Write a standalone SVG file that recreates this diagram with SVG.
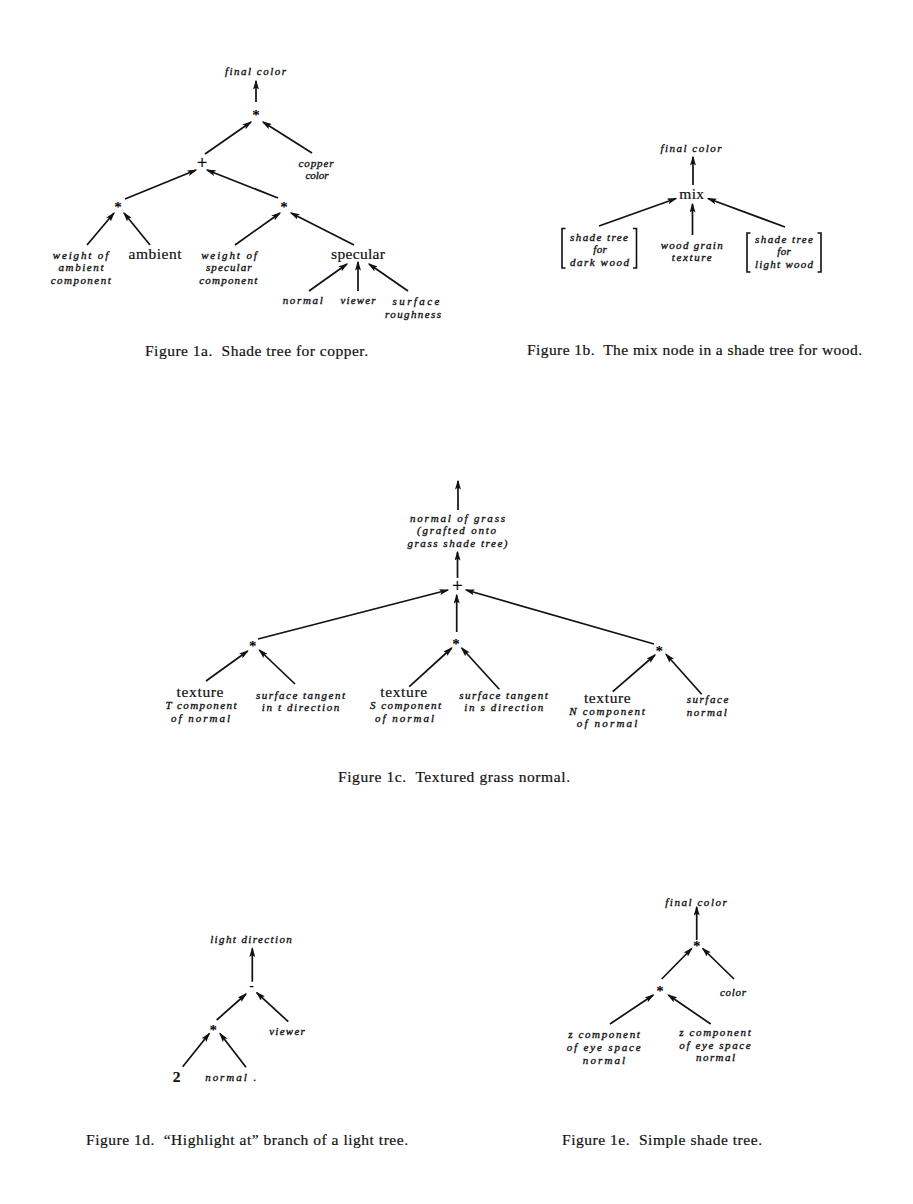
<svg xmlns="http://www.w3.org/2000/svg" width="913" height="1204" viewBox="0 0 913 1204">
  <style>
    .ln { stroke:#111; stroke-width:1.7; fill:none; marker-end:url(#ah); }
    .br { stroke:#111; stroke-width:1.6; fill:none; }
    .it { font-family:"Liberation Serif", serif; font-style:italic; font-size:11px; fill:#111; stroke:#111; stroke-width:0.35; text-anchor:middle; }
    .rm { font-family:"Liberation Serif", serif; font-size:15.5px; fill:#111; stroke:#111; stroke-width:0.2; text-anchor:middle; }
    .op { font-family:"Liberation Serif", serif; font-weight:bold; font-size:15px; fill:#000; text-anchor:middle; }
    .mn { font-family:"Liberation Serif", serif; font-weight:bold; font-size:14px; fill:#000; text-anchor:middle; }
    .plus { font-family:"Liberation Serif", serif; font-size:18px; fill:#000; stroke:#000; stroke-width:0.3; text-anchor:middle; }
    .bd { font-weight:bold; }
    .cap { font-family:"Liberation Serif", serif; font-size:15.5px; fill:#111; stroke:#111; stroke-width:0.2; }
  </style>
  <defs>
    <marker id="ah" viewBox="0 0 10 6" refX="8.6" refY="3" markerWidth="10" markerHeight="6" markerUnits="userSpaceOnUse" orient="auto">
      <path d="M0,0 L10,3 L0,6 L2,3 z" fill="#111"/>
    </marker>
  </defs>
  <rect width="913" height="1204" fill="#fff"/>

  <!-- Figure 1a: shade tree for copper -->
  <g id="fig1a">
    <g id="connectors-1a">
      <line class="ln" x1="256" y1="102" x2="256" y2="81"/>
      <line class="ln" x1="205" y1="154" x2="251" y2="122"/>
      <line class="ln" x1="312" y1="153" x2="263" y2="122"/>
      <line class="ln" x1="125" y1="199" x2="196" y2="170"/>
      <line class="ln" x1="278" y1="198" x2="207" y2="170"/>
      <line class="ln" x1="87" y1="245" x2="114" y2="213"/>
      <line class="ln" x1="150" y1="245" x2="124" y2="213"/>
      <line class="ln" x1="235" y1="245" x2="280" y2="213"/>
      <line class="ln" x1="354" y1="245" x2="291" y2="213"/>
      <line class="ln" x1="309" y1="291" x2="347" y2="264"/>
      <line class="ln" x1="358" y1="291" x2="358" y2="262"/>
      <line class="ln" x1="408" y1="291" x2="369" y2="264"/>
    </g>
    <g id="a-final"><text class="it" x="255.5" y="75" textLength="61">final color</text></g>
    <g id="a-mul-top"><text class="op" x="256" y="120.3">*</text></g>
    <g id="a-plus"><text class="plus" x="202" y="169">+</text></g>
    <g id="a-copper">
      <text class="it" x="316" y="166.5" textLength="35">copper</text>
      <text class="it" x="317" y="179" textLength="23">color</text>
    </g>
    <g id="a-mul-left"><text class="op" x="118" y="212.3">*</text></g>
    <g id="a-mul-right"><text class="op" x="284" y="212.3">*</text></g>
    <g id="a-weight-ambient">
      <text class="it" x="80.5" y="258.5" textLength="55.6">weight of</text>
      <text class="it" x="81" y="271.3" textLength="45">ambient</text>
      <text class="it" x="80.7" y="284" textLength="60">component</text>
    </g>
    <g id="a-ambient"><text class="rm" x="155" y="259" textLength="53">ambient</text></g>
    <g id="a-weight-specular">
      <text class="it" x="229" y="258.5" textLength="55.7">weight of</text>
      <text class="it" x="228.8" y="271.3" textLength="45.7">specular</text>
      <text class="it" x="228.2" y="284" textLength="58">component</text>
    </g>
    <g id="a-specular"><text class="rm" x="358" y="259" textLength="54">specular</text></g>
    <g id="a-normal"><text class="it" x="302.7" y="304.3" textLength="40">normal</text></g>
    <g id="a-viewer"><text class="it" x="358" y="304.3" textLength="35">viewer</text></g>
    <g id="a-roughness">
      <text class="it" x="416" y="305" textLength="47">surface</text>
      <text class="it" x="413" y="317.5" textLength="56">roughness</text>
    </g>
    <text class="cap" x="145" y="356" textLength="223">Figure 1a.&#160; Shade tree for copper.</text>
  </g>

  <!-- Figure 1b: mix node -->
  <g id="fig1b">
    <g id="connectors-1b">
      <line class="ln" x1="693" y1="185" x2="693" y2="157"/>
      <line class="ln" x1="599" y1="226" x2="676" y2="198.5"/>
      <line class="ln" x1="692.5" y1="235" x2="692.5" y2="204"/>
      <line class="ln" x1="785" y1="227" x2="708" y2="198.5"/>
    </g>
    <g id="b-final"><text class="it" x="691" y="151.5" textLength="61">final color</text></g>
    <g id="b-mix"><text class="rm" x="691.7" y="198.5" textLength="24.7">mix</text></g>
    <g id="b-dark">
      <path class="br" d="M565.5,228.5 H562 V268 H565.5"/>
      <path class="br" d="M633,228.5 H636.5 V268 H633"/>
      <text class="it" x="599" y="240.5" textLength="58">shade tree</text>
      <text class="it" x="600" y="253" textLength="13.5">for</text>
      <text class="it" x="599.5" y="265.5" textLength="59">dark wood</text>
    </g>
    <g id="b-grain">
      <text class="it" x="691.7" y="248.5" textLength="62">wood grain</text>
      <text class="it" x="691.7" y="261" textLength="40">texture</text>
    </g>
    <g id="b-light">
      <path class="br" d="M750.5,233 H747 V272 H750.5"/>
      <path class="br" d="M817.5,233 H821 V272 H817.5"/>
      <text class="it" x="784" y="242.5" textLength="58">shade tree</text>
      <text class="it" x="784" y="255" textLength="13.5">for</text>
      <text class="it" x="784" y="267.5" textLength="58">light wood</text>
    </g>
    <text class="cap" x="527" y="355" textLength="335">Figure 1b.&#160; The mix node in a shade tree for wood.</text>
  </g>

  <!-- Figure 1c: textured grass normal -->
  <g id="fig1c">
    <g id="connectors-1c">
      <line class="ln" x1="458" y1="510" x2="458" y2="481"/>
      <line class="ln" x1="457.5" y1="578" x2="457.5" y2="552"/>
      <line class="ln" x1="456.7" y1="632" x2="456.7" y2="595"/>
      <line class="ln" x1="258" y1="639" x2="448" y2="590"/>
      <line class="ln" x1="654" y1="644" x2="466" y2="590"/>
      <line class="ln" x1="206" y1="681" x2="247.7" y2="651"/>
      <line class="ln" x1="295" y1="684" x2="259.3" y2="650"/>
      <line class="ln" x1="409.3" y1="686.7" x2="451.7" y2="648"/>
      <line class="ln" x1="499.3" y1="689.3" x2="461.7" y2="648"/>
      <line class="ln" x1="612.7" y1="691.7" x2="655" y2="655"/>
      <line class="ln" x1="701.7" y1="694.3" x2="666" y2="654.3"/>
    </g>
    <g id="c-grass">
      <text class="it" x="457.5" y="521.5" textLength="95">normal of grass</text>
      <text class="it" x="456.5" y="534" textLength="79">(grafted onto</text>
      <text class="it" x="457.5" y="546.5" textLength="100">grass shade tree)</text>
    </g>
    <g id="c-plus"><text class="plus" x="457.3" y="591.5">+</text></g>
    <g id="c-mul-left"><text class="op" x="252.7" y="650.6">*</text></g>
    <g id="c-mul-mid"><text class="op" x="456" y="649">*</text></g>
    <g id="c-mul-right"><text class="op" x="659.3" y="655.6">*</text></g>
    <g id="c-tex-t">
      <text class="rm" x="200" y="696.5" textLength="47">texture</text>
      <text class="it" x="201" y="709.3" textLength="71">T component</text>
      <text class="it" x="200.5" y="721.6" textLength="59">of normal</text>
    </g>
    <g id="c-tan-t">
      <text class="it" x="300.5" y="698.5" textLength="89">surface tangent</text>
      <text class="it" x="300.5" y="711" textLength="77.6">in t direction</text>
    </g>
    <g id="c-tex-s">
      <text class="rm" x="403.7" y="696.5" textLength="47">texture</text>
      <text class="it" x="405.5" y="709.3" textLength="71">S component</text>
      <text class="it" x="404.5" y="721.6" textLength="59">of normal</text>
    </g>
    <g id="c-tan-s">
      <text class="it" x="503.5" y="698.5" textLength="88.4">surface tangent</text>
      <text class="it" x="503.8" y="711" textLength="79">in s direction</text>
    </g>
    <g id="c-tex-n">
      <text class="rm" x="607.3" y="702.5" textLength="46.7">texture</text>
      <text class="it" x="607" y="715" textLength="75.7">N component</text>
      <text class="it" x="607" y="727.3" textLength="60.6">of normal</text>
    </g>
    <g id="c-surface-normal">
      <text class="it" x="707.5" y="703.3" textLength="41.6">surface</text>
      <text class="it" x="706.7" y="716" textLength="40">normal</text>
    </g>
    <text class="cap" x="338" y="782" textLength="232">Figure 1c.&#160; Textured grass normal.</text>
  </g>

  <!-- Figure 1d: highlight-at branch -->
  <g id="fig1d">
    <g id="connectors-1d">
      <line class="ln" x1="252.3" y1="981.7" x2="252.3" y2="948.5"/>
      <line class="ln" x1="216.7" y1="1020" x2="246" y2="994"/>
      <line class="ln" x1="288.3" y1="1021.7" x2="256.7" y2="992.7"/>
      <line class="ln" x1="182.7" y1="1066.7" x2="209.3" y2="1033.5"/>
      <line class="ln" x1="246" y1="1067.3" x2="220" y2="1033.5"/>
    </g>
    <g id="d-light"><text class="it" x="251" y="943.3" textLength="81.7">light direction</text></g>
    <g id="d-minus"><text class="mn" x="251.7" y="989.7">-</text></g>
    <g id="d-viewer"><text class="it" x="287" y="1035" textLength="35.7">viewer</text></g>
    <g id="d-mul"><text class="op" x="213.3" y="1034.6">*</text></g>
    <g id="d-two"><text class="rm bd" x="176.7" y="1082" font-size="14">2</text></g>
    <g id="d-normal"><text class="it" x="230.7" y="1081" text-anchor="start" textLength="51">normal .</text></g>
    <text class="cap" x="86" y="1145" textLength="322">Figure 1d.&#160; “Highlight at” branch of a light tree.</text>
  </g>

  <!-- Figure 1e: simple shade tree -->
  <g id="fig1e">
    <g id="connectors-1e">
      <line class="ln" x1="696.7" y1="940" x2="696.7" y2="907"/>
      <line class="ln" x1="661.7" y1="979" x2="691.7" y2="948.5"/>
      <line class="ln" x1="734" y1="979" x2="702.7" y2="948.5"/>
      <line class="ln" x1="610" y1="1024" x2="653.3" y2="995"/>
      <line class="ln" x1="710.7" y1="1024" x2="668.3" y2="995"/>
    </g>
    <g id="e-final"><text class="it" x="696" y="906" textLength="61.7">final color</text></g>
    <g id="e-mul-top"><text class="op" x="696.7" y="951.3">*</text></g>
    <g id="e-color"><text class="it" x="733" y="996" textLength="26">color</text></g>
    <g id="e-mul-low"><text class="op" x="660" y="995.6">*</text></g>
    <g id="e-z-left">
      <text class="it" x="604" y="1038" textLength="71.7">z component</text>
      <text class="it" x="603.7" y="1050.5" textLength="74">of eye space</text>
      <text class="it" x="604" y="1063.5" textLength="42.3">normal</text>
    </g>
    <g id="e-z-right">
      <text class="it" x="715" y="1036" textLength="71.4">z component</text>
      <text class="it" x="715" y="1048.5" textLength="71.4">of eye space</text>
      <text class="it" x="715.5" y="1061" textLength="39">normal</text>
    </g>
    <text class="cap" x="562" y="1145" textLength="200">Figure 1e.&#160; Simple shade tree.</text>
  </g>
</svg>
